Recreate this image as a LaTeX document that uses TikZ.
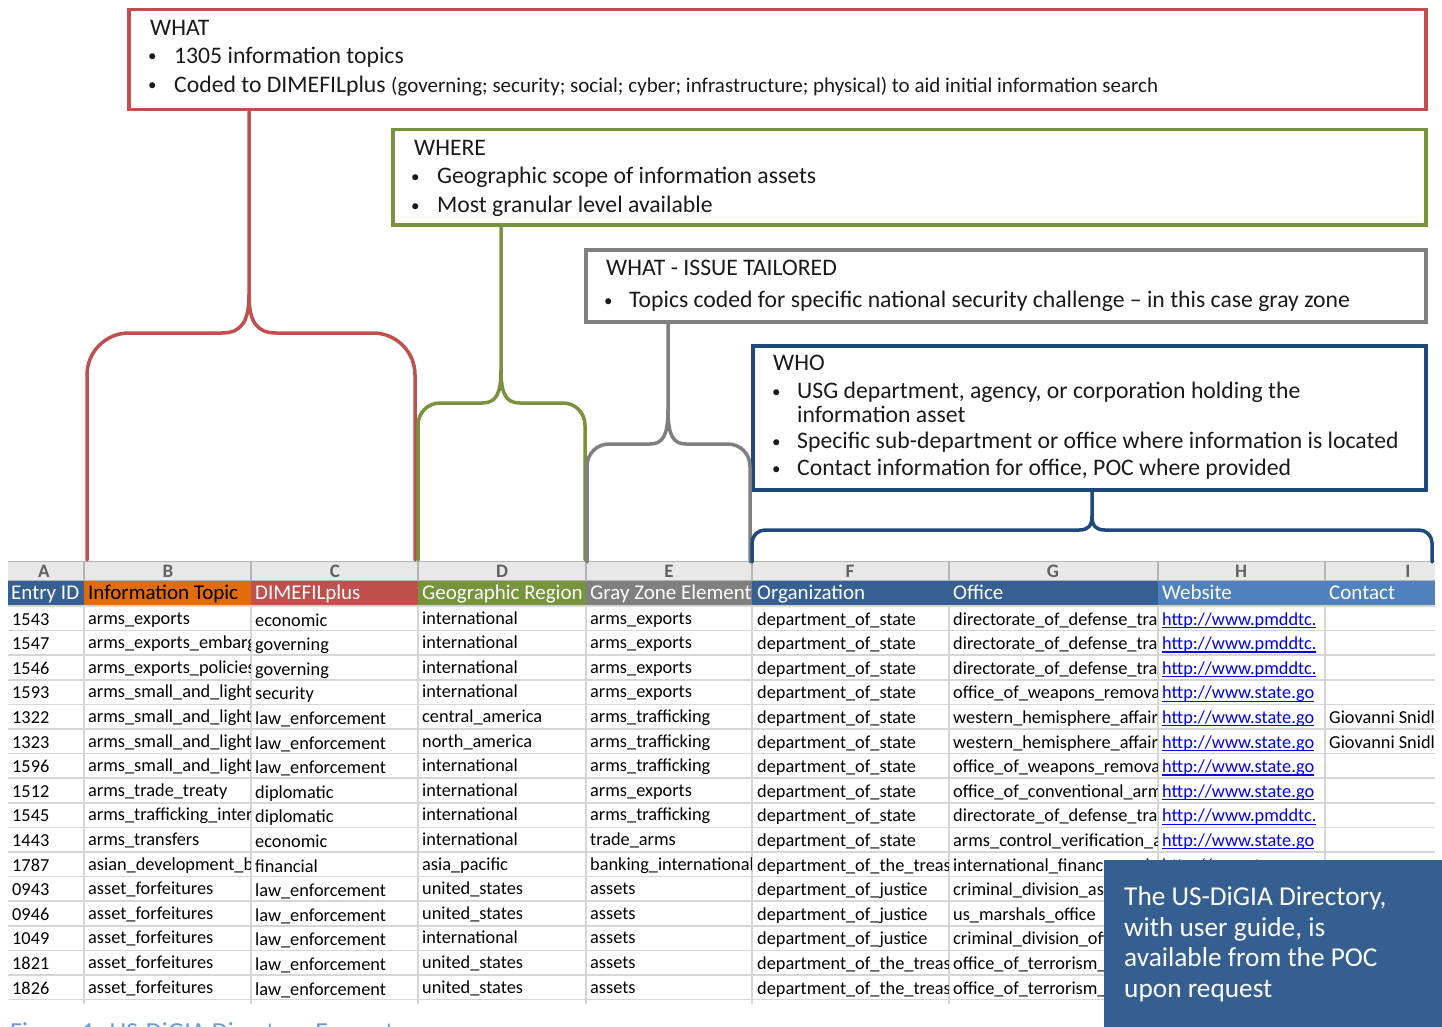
\documentclass[tikz,border=0pt]{standalone}
\usepackage{fontspec}
\setmainfont{Carlito}

\definecolor{cRed}{HTML}{C0504D}
\definecolor{cGreen}{HTML}{77933C}
\definecolor{cGray}{HTML}{7F7F7F}
\definecolor{cNavy}{HTML}{1F497D}
\definecolor{cHdrBlue}{HTML}{366092}
\definecolor{cOrange}{HTML}{E26B0A}
\definecolor{cLtBlue}{HTML}{4F81BD}
\definecolor{cGrid}{HTML}{D6D6D6}
\definecolor{cBandFill}{HTML}{E8E8E8}
\definecolor{cBandLine}{HTML}{B4B4B4}
\definecolor{cLink}{HTML}{0000EE}
\definecolor{cNote}{HTML}{365F91}
\definecolor{cCaption}{HTML}{6A9BD0}
\definecolor{cInk}{HTML}{1A1A1A}

\newcommand\boxfont{\fontsize{23.7}{28}\selectfont}
\newcommand\smallboxfont{\fontsize{21}{25}\selectfont}
\newcommand\cellfont{\fontsize{18.3}{22}\selectfont}
\newcommand\hdrfont{\fontsize{21}{25}\selectfont}
\newcommand\notefont{\fontsize{27.3}{31}\selectfont}
\newcommand\bul{\raisebox{1.5pt}{\fontsize{17}{20}\selectfont\textbullet}}
% underlined hyperlink text, as a spreadsheet shows it
\newcommand\ulink[1]{\setbox0\hbox{#1}\rlap{\rule[-3pt]{\wd0}{1.3pt}}\box0}

\begin{document}
\begin{tikzpicture}[x=1pt,y=-1pt,
  infobox/.style={draw, line width=3.5pt, inner sep=0pt, anchor=north west},
  boxtxt/.style={anchor=base west, inner sep=0pt, font=\boxfont, text=cInk},
  brace/.style={line width=3.5pt, line cap=round, line join=round},
  cell/.style={anchor=base west, inner sep=0pt, font=\cellfont},
  linkcell/.style={cell, text=cLink},
  hdr/.style={anchor=base west, inner sep=0pt, font=\hdrfont, text=white},
  colletter/.style={anchor=base, inner sep=0pt, font=\fontsize{19}{21}\selectfont\bfseries, text=black!62},
  notetxt/.style={anchor=base west, inner sep=0pt, font=\notefont, text=white}]

\clip (0,0) rectangle (1442,1027);
\fill[white] (0,0) rectangle (1442,1027);

% ---------- spreadsheet: column letters ----------
\fill[cBandFill] (8,561) rectangle (1435,580);
\draw[cBandLine, line width=1pt] (8,561) -- (1435,561) (8,580.5) -- (1435,580.5);
\foreach \x in {84,251,418,586,752,949,1158,1325}
  \draw[cBandLine, line width=1.2pt] (\x,561) -- (\x,580);
\foreach \l/\x in {A/44,B/168,C/335,D/502,E/669,F/850,G/1053,H/1241,I/1408}
  \node[colletter] (col\l) at (\x,577) {\l};

% ---------- spreadsheet: header row ----------
\fill[cHdrBlue] (8,581) rectangle (84,605);
\fill[cOrange] (84,581) rectangle (251,605);
\fill[cRed] (251,581) rectangle (418,605);
\fill[cGreen] (418,581) rectangle (586,605);
\fill[cGray] (586,581) rectangle (752,605);
\fill[cHdrBlue] (752,581) rectangle (1158,605);
\fill[cLtBlue] (1158,581) rectangle (1435,605);

% ---------- spreadsheet: grid ----------
\foreach \k in {0,...,16}
  \draw[cGrid, line width=1.6pt] (8,{606+24.6*\k}) -- (1435,{606+24.6*\k});
\foreach \x in {84,251,418,586,752,949,1158,1325}
  \draw[cGrid, line width=1.6pt] (\x,605) -- (\x,1004);

% ---------- spreadsheet: cell texts, clipped per column ----------
\begin{scope}
  \clip (8,581) rectangle (84,1004);
  \node[hdr] (hA) at (11,599) {Entry ID};
  \foreach \t [count=\k from 0] in {1543,1547,1546,1593,1322,1323,1596,1512,1545,1443,1787,0943,0946,1049,1821,1826}
    \node[cell] (a\k) at (12,{625+24.6*\k}) {\t};
\end{scope}
\begin{scope}
  \clip (84,581) rectangle (250,1004);
  \node[hdr, text=black] (hB) at (88,599) {Information Topic};
  \foreach \t [count=\k from 0] in {arms\_exports,arms\_exports\_embargo,arms\_exports\_policies,arms\_small\_and\_light\_weapons,arms\_small\_and\_light\_weapons,arms\_small\_and\_light\_weapons,arms\_small\_and\_light\_weapons,arms\_trade\_treaty,arms\_trafficking\_interdiction,arms\_transfers,asian\_development\_bank,asset\_forfeitures,asset\_forfeitures,asset\_forfeitures,asset\_forfeitures,asset\_forfeitures}
    \node[cell] (b\k) at (88,{624+24.6*\k}) {\t};
\end{scope}
\begin{scope}
  \clip (251,581) rectangle (417,1004);
  \node[hdr] (hC) at (255,599) {DIMEFILplus};
  \foreach \t [count=\k from 0] in {economic,governing,governing,security,law\_enforcement,law\_enforcement,law\_enforcement,diplomatic,diplomatic,economic,financial,law\_enforcement,law\_enforcement,law\_enforcement,law\_enforcement,law\_enforcement}
    \node[cell] (c\k) at (255,{626+24.6*\k}) {\t};
\end{scope}
\begin{scope}
  \clip (418,581) rectangle (585,1004);
  \node[hdr] (hD) at (422,599) {Geographic Region};
  \foreach \t [count=\k from 0] in {international,international,international,international,central\_america,north\_america,international,international,international,international,asia\_pacific,united\_states,united\_states,international,united\_states,united\_states}
    \node[cell] (d\k) at (422,{624+24.6*\k}) {\t};
\end{scope}
\begin{scope}
  \clip (586,581) rectangle (751,1004);
  \node[hdr] (hE) at (590,599) {Gray Zone Element};
  \foreach \t [count=\k from 0] in {arms\_exports,arms\_exports,arms\_exports,arms\_exports,arms\_trafficking,arms\_trafficking,arms\_trafficking,arms\_exports,arms\_trafficking,trade\_arms,banking\_international,assets,assets,assets,assets,assets}
    \node[cell] (e\k) at (590,{624+24.6*\k}) {\t};
\end{scope}
\begin{scope}
  \clip (752,581) rectangle (948,1004);
  \node[hdr] (hF) at (757,599) {Organization};
  \foreach \t [count=\k from 0] in {department\_of\_state,department\_of\_state,department\_of\_state,department\_of\_state,department\_of\_state,department\_of\_state,department\_of\_state,department\_of\_state,department\_of\_state,department\_of\_state,department\_of\_the\_treasury,department\_of\_justice,department\_of\_justice,department\_of\_justice,department\_of\_the\_treasury,department\_of\_the\_treasury}
    \node[cell] (f\k) at (757,{625+24.6*\k}) {\t};
\end{scope}
\begin{scope}
  \clip (949,581) rectangle (1157,1004);
  \node[hdr] (hG) at (953,599) {Office};
  \foreach \t [count=\k from 0] in {directorate\_of\_defense\_trade\_controls,directorate\_of\_defense\_trade\_controls,directorate\_of\_defense\_trade\_controls,office\_of\_weapons\_removal\_and\_abatement,western\_hemisphere\_affairs,western\_hemisphere\_affairs,office\_of\_weapons\_removal\_and\_abatement,office\_of\_conventional\_arms\_threat\_reduction,directorate\_of\_defense\_trade\_controls,arms\_control\_verification\_and\_compliance,international\_finance\_and\_development,criminal\_division\_asset\_forfeiture,us\_marshals\_office,criminal\_division\_office\_of\_international\_affairs,office\_of\_terrorism\_and\_financial\_intelligence,office\_of\_terrorism\_and\_financial\_intelligence}
    \node[cell] (g\k) at (953,{625+24.6*\k}) {\t};
\end{scope}
\begin{scope}
  \clip (1158,581) rectangle (1324,1004);
  \node[hdr] (hH) at (1162,599) {Website};
  \foreach \t [count=\k from 0] in {pmddtc.,pmddtc.,pmddtc.,state.go,state.go,state.go,state.go,state.go,pmddtc.,state.go,treasury.go}
    \node[linkcell] (h\k) at (1162,{625+24.6*\k}) {\ulink{http://www.\t}};
\end{scope}
\begin{scope}
  \clip (1325,581) rectangle (1435,1004);
  \node[hdr] (hI) at (1329,599) {Contact};
  \node[cell] (i4) at (1329,{625+24.6*4}) {Giovanni Snidl};
  \node[cell] (i5) at (1329,{625+24.6*5}) {Giovanni Snidl};
\end{scope}

% ---------- callout boxes ----------
\node[infobox, draw=cRed, minimum width=1297pt, minimum height=100pt] (what) at (127,8) {};
\node[boxtxt] (whatT) at (150,35.5) {WHAT};
\node[boxtxt] (whatB1) at (148,63.5) {\bul};
\node[boxtxt] (whatL1) at (174,63.5) {1305 information topics};
\node[boxtxt] (whatB2) at (148,92.5) {\bul};
\node[boxtxt] (whatL2) at (174,92.5) {Coded to DIMEFILplus {\smallboxfont (governing; security; social; cyber; infrastructure; physical) to aid initial information search}};

\node[infobox, draw=cGreen, minimum width=1033pt, minimum height=95pt] (where) at (391,128) {};
\node[boxtxt] (whereT) at (414,155.5) {WHERE};
\node[boxtxt] (whereB1) at (411,183.5) {\bul};
\node[boxtxt] (whereL1) at (437,183.5) {Geographic scope of information assets};
\node[boxtxt] (whereB2) at (411,212.5) {\bul};
\node[boxtxt] (whereL2) at (437,212.5) {Most granular level available};

\node[infobox, draw=cGray, minimum width=840pt, minimum height=72pt] (issue) at (584,248) {};
\node[boxtxt] (issueT) at (606,275.5) {WHAT - ISSUE TAILORED};
\node[boxtxt] (issueB1) at (604,307.5) {\bul};
\node[boxtxt] (issueL1) at (629,307.5) {Topics coded for specific national security challenge – in this case gray zone};

\node[infobox, draw=cNavy, minimum width=673pt, minimum height=144pt] (who) at (751,344) {};
\node[boxtxt] (whoT) at (773,370.5) {WHO};
\node[boxtxt] (whoB1) at (772,398.5) {\bul};
\node[boxtxt] (whoL1) at (797,398.5) {USG department, agency, or corporation holding the};
\node[boxtxt] (whoL1b) at (797,422.5) {information asset};
\node[boxtxt] (whoB2) at (772,448.5) {\bul};
\node[boxtxt] (whoL2) at (797,448.5) {Specific sub-department or office where information is located};
\node[boxtxt] (whoB3) at (772,475.5) {\bul};
\node[boxtxt] (whoL3) at (797,475.5) {Contact information for office, POC where provided};

% ---------- braces from the boxes down to the columns ----------
\coordinate (redStem) at (249,0);
\coordinate (greenStem) at (501,0);
\coordinate (grayStem) at (668,0);
\coordinate (navyStem) at (1092,0);

\draw[brace, cRed] (87,560) -- (87,375) to[out=90,in=180] (129,333) -- (222,333)
  .. controls (241,333) and (249,322) .. (249,295) -- (what.south -| redStem);
\draw[brace, cRed] (249,295) .. controls (249,322) and (257,333) .. (276,333) -- (373,333)
  to[out=0,in=90] (415,375) -- (415,560);

\draw[brace, cGreen] (418,560) -- (418,425) to[out=90,in=180] (440,403) -- (482,403)
  .. controls (496,403) and (501,394) .. (501,370) -- (where.south -| greenStem);
\draw[brace, cGreen] (501,370) .. controls (501,394) and (506,403) .. (520,403) -- (563,403)
  to[out=0,in=90] (585,425) -- (585,560);

\draw[brace, cGray] (587,562) -- (587,466) to[out=90,in=180] (609,444) -- (650,444)
  .. controls (663,444) and (668,435) .. (668,410) -- (issue.south -| grayStem);
\draw[brace, cGray] (668,410) .. controls (668,435) and (673,444) .. (686,444) -- (728,444)
  to[out=0,in=90] (750,466) -- (750,562);

\draw[brace, cNavy] (752,562) -- (752,543) to[out=90,in=180] (765,530) -- (1079,530)
  .. controls (1088,530) and (1092,526) .. (1092,516) -- (who.south -| navyStem);
\draw[brace, cNavy] (1092,516) .. controls (1092,526) and (1096,530) .. (1105,530) -- (1419,530)
  to[out=0,in=90] (1432,543) -- (1432,562);

% ---------- availability note ----------
\node[fill=cNote, anchor=north west, minimum width=340pt, minimum height=170pt, inner sep=0pt] (note) at (1104,860) {};
\node[notetxt] (noteL1) at (1124,905.5) {The US-DiGIA Directory,};
\node[notetxt] (noteL2) at (1124,936.5) {with user guide, is};
\node[notetxt] (noteL3) at (1124,966.5) {available from the POC};
\node[notetxt] (noteL4) at (1124,997.5) {upon request};

% ---------- caption, cut by the lower edge ----------
\node[anchor=base west, inner sep=0pt, text=cCaption, font=\fontsize{26}{30}\selectfont] (caption) at (10,1040) {Figure 1: US-DiGIA Directory Excerpt};
\end{tikzpicture}
\end{document}
